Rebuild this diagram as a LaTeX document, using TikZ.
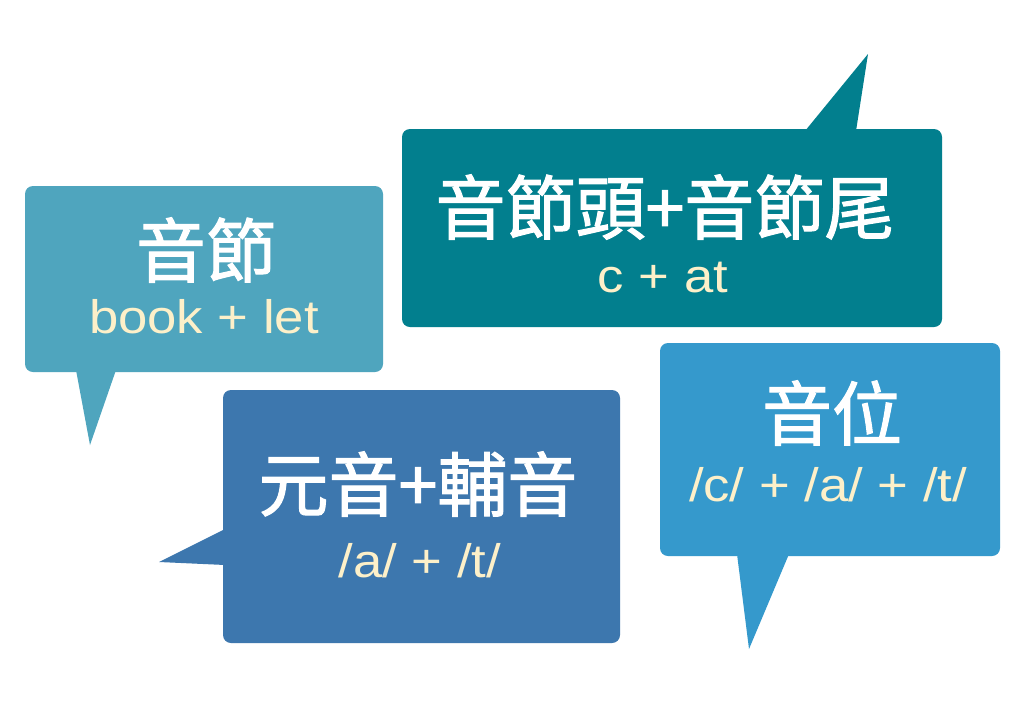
\documentclass[tikz,border=0pt]{standalone}
\usepackage{fontspec}
\setmainfont{Liberation Sans}
\newfontfamily\cjk[FakeBold=1.5]{Noto Sans CJK TC}
\newfontfamily\latin[FakeStretch=1.12]{Liberation Sans}
\definecolor{bubA}{HTML}{4FA5BE}
\definecolor{bubB}{HTML}{027F8E}
\definecolor{bubC}{HTML}{3D77AE}
\definecolor{bubD}{HTML}{3599CC}
\definecolor{cream}{HTML}{FDF0C9}
\tikzset{
	title/.style={text=white, inner sep=0pt, font=\cjk\fontsize{52.5}{60}\selectfont},
	sub/.style={text=cream, inner sep=0pt, anchor=base, font=\latin\fontsize{35.25}{40}\selectfont},
	box/.style={rounded corners=6pt}
}

\begin{document}
\begin{tikzpicture}[x=0.75pt, y=-0.75pt]
	% Khung nền
	\fill[white] (0,0) rectangle (1024,711);
	\useasboundingbox (0,0) rectangle (1024,711);
	% Bóng thoại bên trái
	\fill[bubA, box] (25,186) rectangle (383,372);
	\fill[bubA] (76,370) -- (90,445) -- (116,370) -- cycle;
	\node[title] (syl) at (206,250) {音節};
	\node[sub] (sylEx) at (204,333) {book + let};
	% Bóng thoại phía trên
	\fill[bubB, box] (402,129) rectangle (942,327);
	\fill[bubB] (805,131) -- (868,54) -- (856,131) -- cycle;
	\node[title] (onsRime) at (665,207) {音節頭+音節尾};
	\node[sub] (onsRimeEx) at (663,292) {c + at};
	% Bóng thoại phía dưới
	\fill[bubC, box] (223,390) rectangle (620,643);
	\fill[bubC] (225,529) -- (159,562) -- (225,565) -- cycle;
	\node[title] (vowCons) at (418,484) {元音+輔音};
	\node[sub] (vowConsEx) at (420,577) {/a/ + /t/};
	% Bóng thoại bên phải
	\fill[bubD, box] (660,343) rectangle (1000,556);
	\fill[bubD] (737,554) -- (749,649) -- (789,554) -- cycle;
	\node[title] (phon) at (832,413) {音位};
	\node[sub] (phonEx) at (828,501) {/c/ + /a/ + /t/};
\end{tikzpicture}
\end{document}
